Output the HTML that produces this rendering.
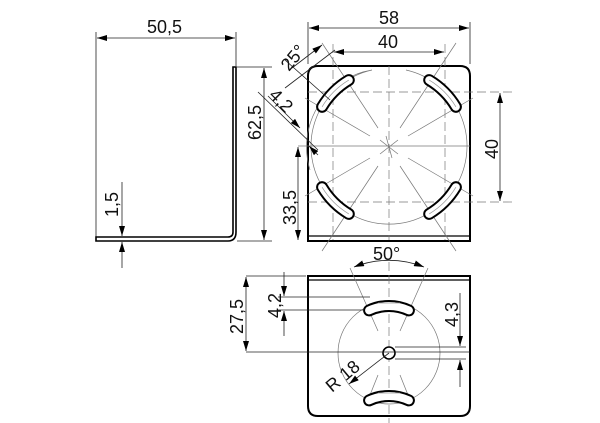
<!DOCTYPE html>
<html><head><meta charset="utf-8"><style>
html,body{margin:0;padding:0;background:#fff;}
svg{display:block}
text{font-family:"Liberation Sans",sans-serif;font-size:18px;fill:#111}
.t{stroke:#222;stroke-width:0.8;fill:none}
.c{stroke:#777;stroke-width:0.7;fill:none}
.d{stroke:#777;stroke-width:0.7;fill:none;stroke-dasharray:9 4}
.o{stroke:#000;stroke-width:2;fill:none}
</style></head><body>
<svg width="600" height="423" viewBox="0 0 600 423" xmlns="http://www.w3.org/2000/svg">
<defs>
<marker id="a" viewBox="0 0 10 6" refX="10" refY="3" markerWidth="10" markerHeight="6" orient="auto-start-reverse" markerUnits="userSpaceOnUse"><path d="M0 0L10 3L0 6z" fill="#000"/></marker>
</defs>
<!-- side view -->
<line class="t" x1="96" y1="32" x2="96" y2="238"/>
<line class="t" x1="236" y1="32" x2="236" y2="66"/>
<line class="t" x1="97" y1="38" x2="235" y2="38" marker-start="url(#a)" marker-end="url(#a)"/>
<text x="147" y="33">50,5</text>
<path d="M96 237 L228 237 Q233 237 233 232 L233 67 L236 67 L236 232 Q236 241 228 241 L96 241 Z" fill="#fff" stroke="#000" stroke-width="1.6"/>
<line class="t" x1="237" y1="67" x2="272" y2="67"/>
<line class="t" x1="237" y1="241" x2="272" y2="241"/>
<line class="t" x1="264" y1="68" x2="264" y2="240" marker-start="url(#a)" marker-end="url(#a)"/>
<text transform="translate(261,140) rotate(-90)">62,5</text>
<line class="t" x1="122" y1="182" x2="122" y2="236" marker-end="url(#a)"/>
<line class="t" x1="122" y1="268" x2="122" y2="242" marker-end="url(#a)"/>
<text transform="translate(118,217) rotate(-90)">1,5</text>
<!-- top view -->
<path d="M308 241 L308 76 Q308 66 318 66 L460 66 Q470 66 470 76 L470 241 Z" class="o"/>
<line class="o" x1="308" y1="236" x2="470" y2="236" style="stroke-width:1.2"/>
<line class="t" x1="308" y1="22" x2="308" y2="64"/>
<line class="t" x1="470" y1="22" x2="470" y2="64"/>
<line class="t" x1="309" y1="28" x2="469" y2="28" marker-start="url(#a)" marker-end="url(#a)"/>
<text x="379" y="24">58</text>
<line class="t" x1="334" y1="52" x2="444" y2="52" marker-start="url(#a)" marker-end="url(#a)"/>
<text x="378" y="48">40</text>
<line class="d" x1="333" y1="44" x2="333" y2="240"/>
<line class="d" x1="445" y1="44" x2="445" y2="240"/>
<line class="d" x1="389" y1="66" x2="389" y2="240"/>
<line class="d" x1="308" y1="92" x2="512" y2="92"/>
<line class="d" x1="308" y1="202" x2="512" y2="202"/>
<line class="c" x1="298" y1="146" x2="470" y2="146"/>
<path class="c" d="M406 70 A78 78 0 1 1 372 70 M310 170 A78 78 0 0 1 372 70" />
<line class="t" x1="500" y1="93" x2="500" y2="201" marker-start="url(#a)" marker-end="url(#a)"/>
<text transform="translate(498,159) rotate(-90)">40</text>
<line class="t" x1="298" y1="147" x2="298" y2="240" marker-start="url(#a)" marker-end="url(#a)"/>
<text transform="translate(296,225) rotate(-90)">33,5</text>
<!-- radial lines -->
<g class="c">
<line x1="322" y1="43" x2="378" y2="128"/><line x1="305" y1="98" x2="370" y2="136"/>
<line x1="456" y1="43" x2="400" y2="128"/><line x1="473" y1="98" x2="408" y2="136"/>
<line x1="322" y1="251" x2="378" y2="166"/><line x1="305" y1="196" x2="370" y2="158"/>
<line x1="456" y1="251" x2="400" y2="166"/><line x1="473" y1="196" x2="408" y2="158"/>
<line x1="380" y1="140" x2="398" y2="154"/><line x1="380" y1="154" x2="398" y2="140"/><line x1="386" y1="136" x2="392" y2="158"/>
</g>
<g id="s">
<path d="M429.2 80.1 A78 78 0 0 1 455.9 106.8" stroke="#000" stroke-width="12" stroke-linecap="round" fill="none"/>
<path d="M429.2 80.1 A78 78 0 0 1 455.9 106.8" stroke="#fff" stroke-width="8" stroke-linecap="round" fill="none"/>
<path d="M429.2 80.1 A78 78 0 0 1 455.9 106.8" stroke="#999" stroke-width="0.7" fill="none"/>
</g>
<use href="#s" transform="rotate(-90 389 147)"/>
<use href="#s" transform="rotate(90 389 147)"/>
<use href="#s" transform="rotate(180 389 147)"/>
<!-- diagonal dims -->
<g class="t">
<line x1="285" y1="60" x2="330" y2="100"/>
<line x1="335" y1="50" x2="285" y2="88"/>
<line x1="322" y1="45" x2="292" y2="68" marker-start="url(#a)"/>
<line x1="258" y1="92" x2="318" y2="150"/>
<line x1="268" y1="96" x2="300" y2="128" marker-end="url(#a)"/>
<line x1="318" y1="155" x2="309" y2="146" marker-end="url(#a)"/>
</g>
<text transform="translate(289,72) rotate(-50)">25°</text>
<text transform="translate(268,96) rotate(45)">4,2</text>
<!-- bottom view -->
<path d="M308 276 L470 276 L470 406 Q470 416 460 416 L318 416 Q308 416 308 406 Z" class="o"/>
<line class="o" x1="308" y1="280" x2="470" y2="280" style="stroke-width:1.2"/>
<line class="d" x1="389" y1="262" x2="389" y2="423"/>
<circle class="c" cx="389" cy="353" r="51"/>
<g class="c">
<line x1="350" y1="268" x2="378" y2="331"/><line x1="428" y1="268" x2="400" y2="331"/>
<line x1="378" y1="375" x2="366" y2="405"/><line x1="400" y1="375" x2="412" y2="405"/>
</g>
<path class="t" d="M354 267 A95 95 0 0 1 424 267" marker-start="url(#a)" marker-end="url(#a)"/>
<text x="373" y="260">50°</text>
<g id="b">
<path d="M369.1 310.4 A47 47 0 0 1 408.9 310.4" stroke="#000" stroke-width="12" stroke-linecap="round" fill="none"/>
<path d="M369.1 310.4 A47 47 0 0 1 408.9 310.4" stroke="#fff" stroke-width="8" stroke-linecap="round" fill="none"/>
<path d="M378 303 L400 303" stroke="#999" stroke-width="0.7"/>
</g>
<use href="#b" transform="translate(0,90)"/>
<circle cx="389" cy="353" r="6" fill="#fff" stroke="#000" stroke-width="1.6"/>
<g class="t">
<line x1="246" y1="276" x2="306" y2="276"/>
<line x1="246" y1="352" x2="470" y2="352"/>
<line x1="246" y1="277" x2="246" y2="351" marker-start="url(#a)" marker-end="url(#a)"/>
<line x1="278" y1="297" x2="370" y2="297"/>
<line x1="278" y1="310" x2="364" y2="310"/>
<line x1="284" y1="272" x2="284" y2="296" marker-end="url(#a)"/>
<line x1="284" y1="336" x2="284" y2="311" marker-end="url(#a)"/>
<line x1="395" y1="347" x2="466" y2="347"/>
<line x1="395" y1="359" x2="466" y2="359"/>
<line x1="460" y1="293" x2="460" y2="346" marker-end="url(#a)"/>
<line x1="460" y1="387" x2="460" y2="360" marker-end="url(#a)"/>
<line x1="389" y1="353" x2="349" y2="384" marker-end="url(#a)"/>
</g>
<text transform="translate(243,334) rotate(-90)">27,5</text>
<text transform="translate(281,318) rotate(-90)">4,2</text>
<text transform="translate(458,327) rotate(-90)">4,3</text>
<text transform="translate(332,393) rotate(-40)">R 18</text>
</svg>
</body></html>
